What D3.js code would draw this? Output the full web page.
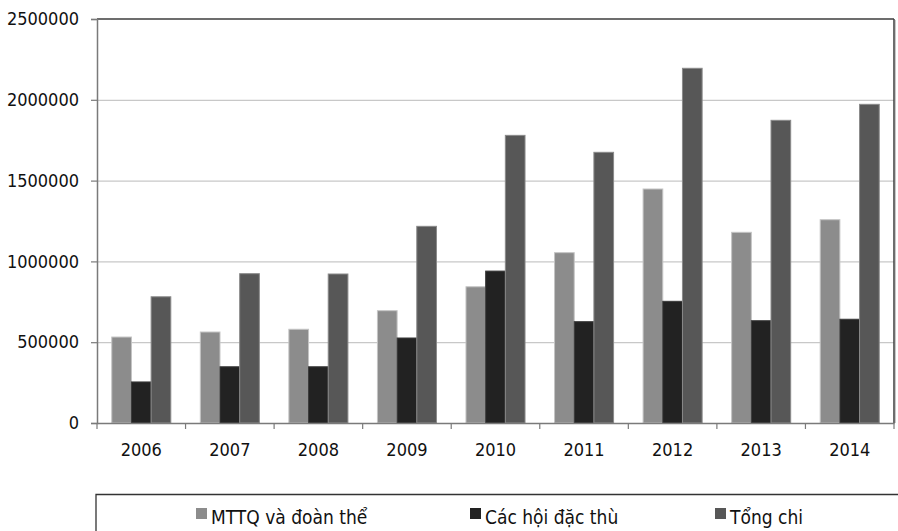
<!DOCTYPE html>
<html><head><meta charset="utf-8">
<script src="https://cdn.jsdelivr.net/npm/d3@7"></script>
<style>body{margin:0;background:#fff}svg{display:block}</style>
</head><body>
<svg id="c" width="898" height="531"></svg>
<script>
const years = ["2006","2007","2008","2009","2010","2011","2012","2013","2014"];
const seriesNames = ["MTTQ và đoàn thể","Các hội đặc thù","Tổng chi"];
const mttq = [532000,563000,580000,695000,843000,1054000,1448000,1180000,1258000];
const hoi  = [254000,348000,348000,526000,940000,627000,753000,633000,642000];
const tong = [781000,924000,922000,1217000,1780000,1675000,2195000,1873000,1972000];
const yTicks = [0,500000,1000000,1500000,2000000,2500000];
const colors = ["#8c8c8c","#222222","#575757"];
const strokes = ["#c4c4c4","#3a3a3a","#8a8a8a"];

const svg = d3.select("#c");
const font = "'Liberation Sans Narrow','DejaVu Sans Condensed','Liberation Sans',sans-serif";
const m = {l:97, r:894, t:19, b:423};
const x = d3.scaleBand().domain(years).range([m.l, m.r]).paddingInner(0).paddingOuter(0);
const y = d3.scaleLinear().domain([0,2500000]).range([m.b, m.t]);
const bw = x.bandwidth()/4.5;
const x1 = d3.scaleBand().domain([0,1,2]).range([bw*0.75, bw*3.75]);
const data = [mttq, hoi, tong];

// gridlines
svg.append("g").selectAll("line").data(yTicks.filter(v=>v>0 && v<2500000)).join("line")
  .attr("x1", m.l).attr("x2", m.r).attr("y1", d=>y(d)+0.5).attr("y2", d=>y(d)+0.5)
  .attr("stroke","#c8c8c8").attr("stroke-width",1.2);

// bars
data.forEach((vals, si) => {
  svg.append("g").selectAll("rect").data(vals).join("rect")
    .attr("x", (d,i)=>x(years[i]) + x1(si))
    .attr("y", d=>y(d))
    .attr("width", x1.bandwidth())
    .attr("height", d=>y(0)-y(d))
    .attr("fill", colors[si])
    .attr("stroke", strokes[si]).attr("stroke-width",1);
});

// top & right frame
svg.append("line").attr("x1",m.l).attr("x2",m.r).attr("y1",m.t).attr("y2",m.t)
  .attr("stroke","#3c3c3c").attr("stroke-width",1.5);
svg.append("line").attr("x1",m.r).attr("x2",m.r).attr("y1",m.t).attr("y2",m.b)
  .attr("stroke","#3c3c3c").attr("stroke-width",1.5);
svg.append("line").attr("x1",m.r+1.5).attr("x2",m.r+1.5).attr("y1",m.t+1).attr("y2",m.b)
  .attr("stroke","#c8c8c8").attr("stroke-width",1);

// y axis
const ya = svg.append("g").attr("transform",`translate(${m.l},0)`)
  .call(d3.axisLeft(y).tickValues(yTicks).tickSize(6).tickPadding(12).tickFormat(d3.format("d")));
ya.select(".domain").attr("stroke","#7a7a7a").attr("stroke-width",1.5);
ya.selectAll(".tick line").attr("stroke","#7a7a7a").attr("stroke-width",1.2);
ya.selectAll("text").attr("font-family",font).attr("font-size",18).attr("fill","#111");

// x axis
const xa = svg.append("g").attr("transform",`translate(0,${m.b})`)
  .call(d3.axisBottom(x).tickSize(0).tickPadding(20));
xa.select(".domain").attr("stroke","#7a7a7a").attr("stroke-width",1.5);
xa.selectAll("text").attr("font-family",font).attr("font-size",18).attr("fill","#111");
svg.append("g").selectAll("line").data(years.concat(["end"])).join("line")
  .attr("x1",(d,i)=>m.l + i*x.bandwidth()).attr("x2",(d,i)=>m.l + i*x.bandwidth())
  .attr("y1",m.b).attr("y2",m.b+6).attr("stroke","#7a7a7a").attr("stroke-width",1.2);

// legend
svg.append("path").attr("d",`M96,531 V494.5 H898`).attr("fill","none")
  .attr("stroke","#333").attr("stroke-width",1.3);
const lx = [196, 470, 715];
seriesNames.forEach((n,i)=>{
  svg.append("rect").attr("x",lx[i]).attr("y",508).attr("width",11).attr("height",11)
    .attr("fill",colors[i]);
  svg.append("text").attr("x",lx[i]+15).attr("y",524).text(n)
    .attr("font-family",font).attr("font-size",19).attr("fill","#111");
});
</script>
</body></html>
